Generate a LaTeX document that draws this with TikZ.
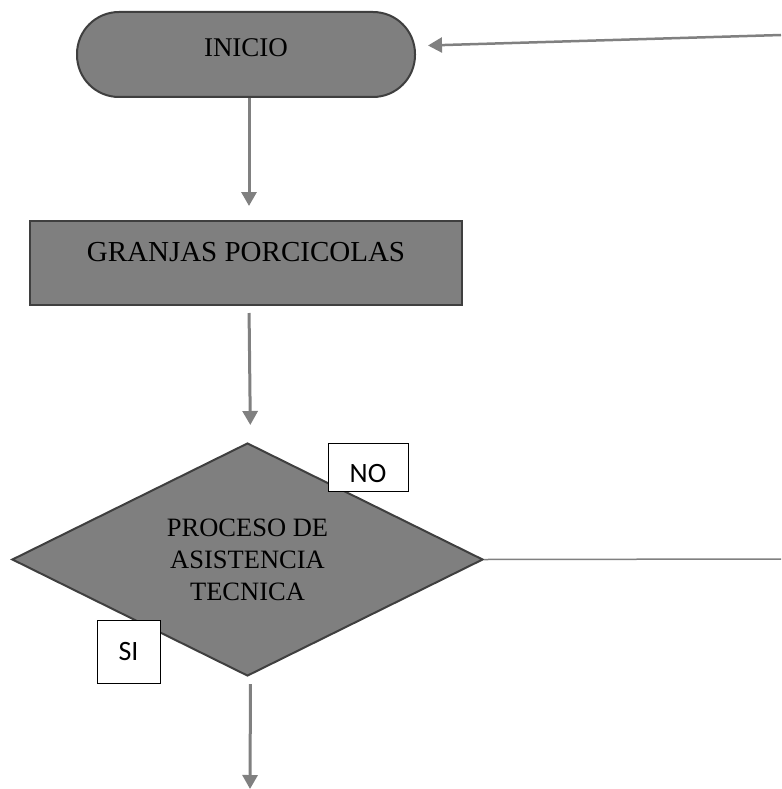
\documentclass[tikz,border=0pt]{standalone}
\usepackage{fontspec}
\setmainfont{Liberation Serif}
\newfontfamily\calibri{Carlito}
\usetikzlibrary{shapes.geometric,arrows.meta}
\definecolor{fillgray}{HTML}{7F7F7F}
\definecolor{edgegray}{HTML}{3F3F3F}
\definecolor{arrgray}{HTML}{808080}

\begin{document}
\begin{tikzpicture}[x=1pt, y=-1pt, line width=2pt,
    term/.style = {draw=edgegray, fill=fillgray, rectangle, rounded corners=42pt, minimum width=338pt, minimum height=85pt, inner sep=0pt, font=\fontsize{27}{32}\selectfont, text depth=13pt},
    proc/.style = {draw=edgegray, fill=fillgray, rectangle, minimum width=432pt, minimum height=84pt, inner sep=0pt, font=\fontsize{29}{34}\selectfont, text depth=22pt},
    decis/.style = {draw=edgegray, fill=fillgray, diamond, aspect=2, minimum width=471pt, minimum height=233pt, inner sep=0pt, align=center, font=\fontsize{26.5}{32}\selectfont},
    tag/.style = {draw=black, line width=1pt, fill=white, inner sep=0pt, font=\calibri\fontsize{28}{32}\selectfont},
    flow/.style = {draw=arrgray, line width=3pt, -{Triangle[width=15pt,length=14pt]}}]
    \useasboundingbox (0,0) rectangle (781,789);
    \node[term] (1) at (246,54.5) {INICIO};
    \node[proc] (2) at (246,263) {GRANJAS PORCICOLAS};
    \node[decis] (3) at (247.5,559.5) {PROCESO DE\\ASISTENCIA\\TECNICA};
    \coordinate (a) at (781,35);
    \coordinate (b) at (781,559);
    \coordinate (c) at (250,789);
    \draw[flow, line width=2.5pt] (a) -- ([xshift=12pt,yshift=9pt]1.east);
    \draw[flow, shorten >=14pt] ([xshift=3pt]1.south) -- ([xshift=3pt]2.north);
    \draw[flow, shorten <=7pt, shorten >=17pt] ([xshift=3pt]2.south) -- ([xshift=3pt]3.north);
    \draw[flow, shorten <=7pt] ([xshift=3pt]3.south) -- (c);
    \draw[arrgray, line width=1.5pt] (3.east) -- (b);
    \node[tag, minimum width=80pt, minimum height=48pt, text height=31pt] (4) at (368,467) {NO};
    \node[tag, minimum width=63pt, minimum height=63pt] (5) at (128.5,651.5) {SI};
    \end{tikzpicture}
\end{document}
